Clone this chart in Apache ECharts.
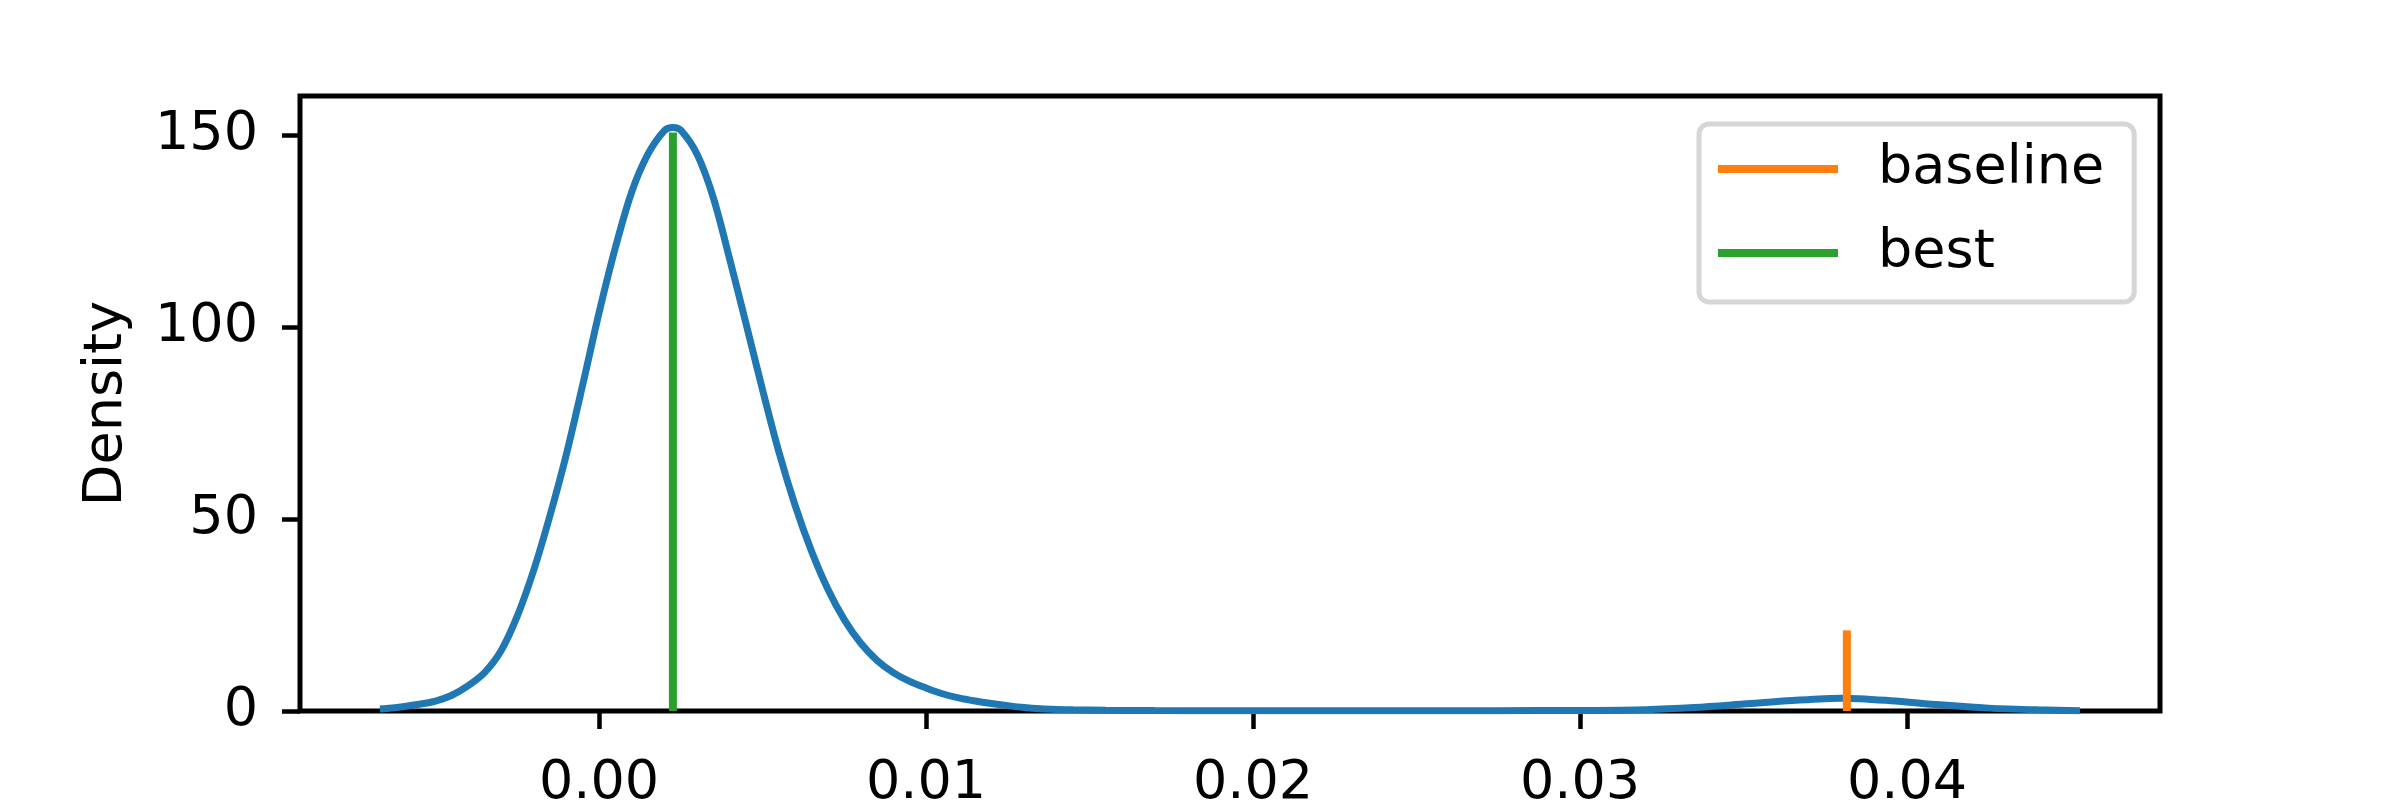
<!DOCTYPE html>
<html>
<head>
<meta charset="utf-8">
<script src="https://cdn.jsdelivr.net/npm/echarts@6/dist/echarts.min.js"></script>
<style>
  html, body { margin: 0; padding: 0; background: #fff; }
  #chart { width: 2400px; height: 800px; }
</style>
</head>
<body>
<div id="chart"></div>
<script>
// KDE curve (x value, density)
const kdeX = [-0.00670, -0.0065, -0.0060, -0.0055, -0.0050, -0.0045, -0.0040, -0.0035,
  -0.0030, -0.0025, -0.0020, -0.0015, -0.0010, -0.0005, 0.0000, 0.0005, 0.0010,
  0.0015, 0.0020, 0.00226, 0.0025, 0.0030, 0.0035, 0.0040, 0.0045, 0.0050, 0.0055,
  0.0060, 0.0065, 0.0070, 0.0075, 0.0080, 0.0085, 0.0090, 0.0095, 0.0100, 0.0105,
  0.0110, 0.0115, 0.0120, 0.0125, 0.0130, 0.0135, 0.0140, 0.0145, 0.0155, 0.0170,
  0.0190, 0.0220, 0.0250, 0.0275, 0.0300, 0.0320, 0.0335, 0.0350, 0.0365, 0.0380,
  0.0395, 0.0410, 0.0425, 0.0440, 0.04529]
const kdeY = [0.5, 0.63, 1.13, 1.75, 2.6, 4.1, 6.6, 10.0,
  15.6, 24.7, 36.6, 50.9, 66.8, 84.9, 103.7, 120.7, 135.2,
  145.1, 151.2, 152.0, 151.3, 145.0, 133.6, 117.6, 100.8, 83.7, 67.5,
  53.5, 41.6, 31.7, 23.8, 17.7, 13.2, 10.0, 7.7, 6.0, 4.5,
  3.4, 2.6, 1.95, 1.4, 0.92, 0.6, 0.42, 0.3, 0.2, 0.12,
  0.07, 0.05, 0.05, 0.08, 0.15, 0.35, 0.9, 1.8, 2.75, 3.35,
  2.7, 1.6, 0.75, 0.3, 0.08]

const baselineX = 0.03816
const baselineTop = 21
const bestX = 0.00226
const bestTop = 150.7

const xTicks = [0, 0.01, 0.02, 0.03, 0.04]
const yTicks = [0, 50, 100, 150]

const font = 'DejaVu Sans'

let chart = echarts.init(document.getElementById('chart'))
let option = {
    animation: false,
    backgroundColor: '#fff',
    grid: {
        left: 300,
        right: 240,
        top: 96,
        bottom: 89,
        containLabel: false,
        outerBoundsMode: 'none',
        show: true,
        borderColor: '#000',
        borderWidth: 5,
        backgroundColor: 'transparent'
    },
    legend: {
        data: ['baseline', 'best'],
        orient: 'vertical',
        left: 1699,
        top: 124,
        icon: 'rect',
        itemWidth: 120,
        itemHeight: 8,
        itemGap: 16,
        padding: [11, 30, 15, 19],
        borderColor: '#d6d6d6',
        borderWidth: 5,
        borderRadius: 10,
        backgroundColor: '#fff',
        textStyle: {
            fontFamily: font,
            fontSize: 54,
            lineHeight: 54,
            color: '#000',
            padding: [14, 0, 0, 35]
        }
    },
    xAxis: {
        type: 'value',
        min: -0.009144,
        max: 0.047737,
        splitLine: { show: false },
        axisLine: { show: false, onZero: false },
        axisTick: {
            show: true,
            length: 18,
            customValues: xTicks,
            lineStyle: { color: '#000', width: 4.5 }
        },
        axisLabel: {
            customValues: xTicks,
            formatter: function (v) { return v.toFixed(2) },
            fontFamily: font,
            fontSize: 54,
            color: '#000',
            margin: 46
        }
    },
    yAxis: {
        type: 'value',
        min: 0,
        max: 160.2,
        name: 'Density',
        nameLocation: 'middle',
        nameRotate: 90,
        nameGap: 166,
        nameTextStyle: { fontFamily: font, fontSize: 54, color: '#000' },
        splitLine: { show: false },
        axisLine: { show: false, onZero: false },
        axisTick: {
            show: true,
            length: 18,
            customValues: yTicks,
            lineStyle: { color: '#000', width: 4.5 }
        },
        axisLabel: {
            customValues: yTicks,
            fontFamily: font,
            fontSize: 54,
            color: '#000',
            margin: 42
        }
    },
    series: [{
        name: 'kde',
        type: 'line',
        data: kdeX.map((x, i) => [x, kdeY[i]]),
        showSymbol: false,
        smooth: 0.3,
        lineStyle: { color: '#1f77b4', width: 7 },
        z: 2
    }, {
        name: 'baseline',
        type: 'line',
        data: [[baselineX, 0], [baselineX, baselineTop]],
        showSymbol: false,
        color: '#ff7f0e',
        lineStyle: { color: '#ff7f0e', width: 8 },
        z: 3
    }, {
        name: 'best',
        type: 'line',
        data: [[bestX, 0], [bestX, bestTop]],
        showSymbol: false,
        color: '#2ca02c',
        lineStyle: { color: '#2ca02c', width: 8 },
        z: 3
    }]
}
chart.setOption(option)
</script>
</body>
</html>
